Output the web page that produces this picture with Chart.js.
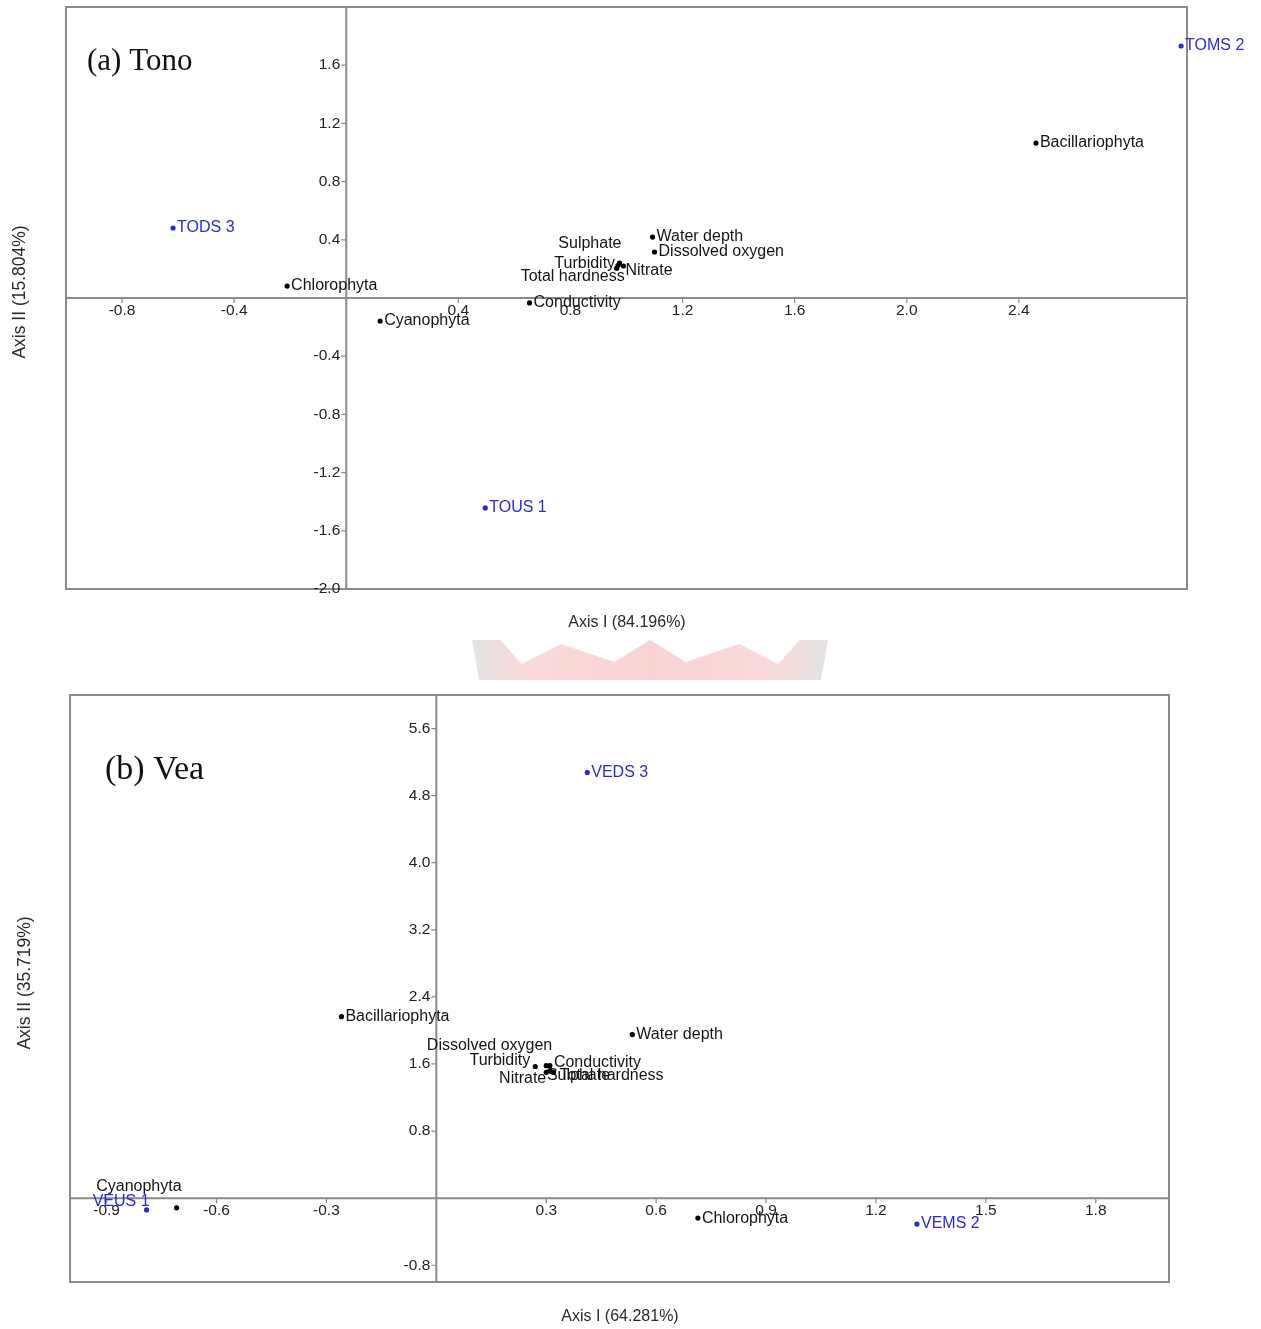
<!DOCTYPE html>
<html>
<head>
<meta charset="utf-8">
<title>CCA biplots - Tono and Vea</title>
<script src="https://cdn.jsdelivr.net/npm/chart.js@4.4.1/dist/chart.umd.min.js"></script>
<style>
  html, body { margin: 0; padding: 0; background: #fff; }
  #page { position: relative; width: 1261px; height: 1329px; overflow: hidden; }
  #crest {
    position: absolute; left: 472px; top: 640px; width: 356px; height: 40px;
    background: linear-gradient(90deg, rgba(200,200,200,0.5), rgba(240,150,150,0.35) 15%, rgba(235,130,130,0.35) 50%, rgba(240,150,150,0.35) 85%, rgba(200,200,200,0.5));
    clip-path: polygon(0 0, 8% 0, 14% 60%, 25% 10%, 40% 55%, 50% 0, 60% 55%, 75% 10%, 86% 60%, 92% 0, 100% 0, 98% 100%, 2% 100%);
  }
  canvas { position: absolute; left: 0; }
  #chartA { top: 0; }
  #chartB { top: 640px; }
</style>
</head>
<body>
<div id="page">
  <div id="crest"></div>
  <canvas id="chartA" width="1261" height="640"></canvas>
  <canvas id="chartB" width="1261" height="689"></canvas>
</div>
<script>
// ---- (a) Tono ----
const tonoSites = ["TOUS 1", "TOMS 2", "TODS 3"];
const tonoSiteX = [0.496, 2.979, -0.618];
const tonoSiteY = [-1.443, 1.732, 0.481];

const tonoVars = ["Bacillariophyta", "Chlorophyta", "Cyanophyta", "Water depth", "Dissolved oxygen",
                  "Sulphate", "Turbidity", "Total hardness", "Nitrate", "Conductivity"];
const tonoVarX = [2.461, -0.211, 0.121, 1.093, 1.100, 0.975, 0.970, 0.965, 0.989, 0.654];
const tonoVarY = [1.065, 0.082, -0.158, 0.419, 0.316, 0.240, 0.225, 0.205, 0.220, -0.034];

const tonoXTicks = [-0.8, -0.4, 0.4, 0.8, 1.2, 1.6, 2.0, 2.4];
const tonoYTicks = [1.6, 1.2, 0.8, 0.4, -0.4, -0.8, -1.2, -1.6, -2.0];

// ---- (b) Vea ----
const veaSites = ["VEUS 1", "VEMS 2", "VEDS 3"];
const veaSiteX = [-0.791, 1.312, 0.412];
const veaSiteY = [-0.140, -0.309, 5.077];

const veaVars = ["Bacillariophyta", "Chlorophyta", "Cyanophyta", "Water depth", "Dissolved oxygen",
                 "Turbidity", "Conductivity", "Nitrate", "Sulphate", "Total hardness"];
const veaVarX = [-0.259, 0.714, -0.709, 0.535, 0.300, 0.270, 0.310, 0.300, 0.310, 0.320];
const veaVarY = [2.164, -0.238, -0.115, 1.950, 1.580, 1.570, 1.580, 1.500, 1.520, 1.500];

const veaXTicks = [-0.9, -0.6, -0.3, 0.3, 0.6, 0.9, 1.2, 1.5, 1.8];
const veaYTicks = [5.6, 4.8, 4.0, 3.2, 2.4, 1.6, 0.8, -0.8];

const SANS = "'Liberation Sans', Arial, sans-serif";
const SERIF = "'Liberation Serif', 'Times New Roman', serif";
const LINE = "#8a8a8a";
const INK = "#141414";
const BLUE = "#2a2ad2";

function toPoints(xs, ys) {
    return xs.map((x, i) => ({ x: x, y: ys[i] }));
}

// box, axes through the origin and their tick labels
const crossAxes = {
    id: "crossAxes",
    beforeDatasetsDraw(chart, args, opts) {
        const { ctx, chartArea: a, scales: { x, y } } = chart;
        const x0 = x.getPixelForValue(0);
        const y0 = y.getPixelForValue(0);
        ctx.save();
        ctx.strokeStyle = LINE;
        ctx.lineWidth = 2;
        ctx.strokeRect(a.left, a.top, a.right - a.left, a.bottom - a.top);
        ctx.beginPath();
        ctx.moveTo(a.left, y0); ctx.lineTo(a.right, y0);
        ctx.moveTo(x0, a.top); ctx.lineTo(x0, a.bottom);
        ctx.stroke();

        ctx.lineWidth = 1.2;
        ctx.fillStyle = "#222";
        ctx.font = "15.5px " + SANS;
        ctx.beginPath();
        opts.xTicks.forEach(v => {
            const px = x.getPixelForValue(v);
            ctx.moveTo(px, y0); ctx.lineTo(px, y0 + 5);
        });
        opts.yTicks.forEach(v => {
            const py = y.getPixelForValue(v);
            ctx.moveTo(x0 - 5, py); ctx.lineTo(x0, py);
        });
        ctx.stroke();

        ctx.textBaseline = "middle";
        ctx.textAlign = "center";
        opts.xTicks.forEach(v => ctx.fillText(v.toFixed(1), x.getPixelForValue(v), y0 + 13));
        ctx.textAlign = "right";
        opts.yTicks.forEach(v => ctx.fillText(v.toFixed(1), x0 - 6, y.getPixelForValue(v)));

        // titles
        ctx.fillStyle = "#2a2a2a";
        ctx.textAlign = "center";
        ctx.font = "16px " + SANS;
        ctx.fillText(opts.xTitle, opts.xTitlePos[0], opts.xTitlePos[1]);
        ctx.save();
        ctx.translate(opts.yTitlePos[0], opts.yTitlePos[1]);
        ctx.rotate(-Math.PI / 2);
        ctx.font = "17.5px " + SANS;
        ctx.fillText(opts.yTitle, 0, 0);
        ctx.restore();

        ctx.fillStyle = "#111";
        ctx.textAlign = "left";
        ctx.font = opts.panelSize + "px " + SERIF;
        ctx.fillText(opts.panel, opts.panelPos[0], opts.panelPos[1]);
        ctx.restore();
    }
};

// names next to each point
const pointNames = {
    id: "pointNames",
    afterDatasetsDraw(chart, args, opts) {
        const ctx = chart.ctx;
        ctx.save();
        ctx.font = "16px " + SANS;
        ctx.textBaseline = "middle";
        chart.data.datasets.forEach((ds, di) => {
            const meta = chart.getDatasetMeta(di);
            ctx.fillStyle = ds.textColor;
            meta.data.forEach((pt, i) => {
                const name = ds.names[i];
                const p = opts.placement[name] || {};
                ctx.textAlign = p.align || "left";
                const dx = p.dx !== undefined ? p.dx : 4;
                ctx.fillText(name, pt.x + dx, pt.y + (p.dy || 0));
            });
        });
        ctx.restore();
    }
};

function makeChart(id, sites, sx, sy, vars, vx, vy, xr, yr, pad, axesOpts, placement) {
    return new Chart(document.getElementById(id), {
        type: "scatter",
        data: {
            datasets: [
                {
                    data: toPoints(vx, vy), names: vars, textColor: INK,
                    backgroundColor: "#000", pointRadius: 2.6, borderWidth: 0
                },
                {
                    data: toPoints(sx, sy), names: sites, textColor: BLUE,
                    backgroundColor: BLUE, pointRadius: 2.6, borderWidth: 0
                }
            ]
        },
        options: {
            responsive: false,
            animation: false,
            events: [],
            layout: { padding: pad },
            scales: {
                x: { type: "linear", min: xr[0], max: xr[1], display: false },
                y: { type: "linear", min: yr[0], max: yr[1], display: false }
            },
            plugins: {
                legend: { display: false },
                tooltip: { enabled: false },
                crossAxes: axesOpts,
                pointNames: { placement: placement }
            }
        },
        plugins: [crossAxes, pointNames]
    });
}

makeChart("chartA", tonoSites, tonoSiteX, tonoSiteY, tonoVars, tonoVarX, tonoVarY,
    [-1.0, 3.0], [-2.0, 2.0],
    { left: 66, right: 74, top: 7, bottom: 51 },
    {
        xTicks: tonoXTicks, yTicks: tonoYTicks,
        xTitle: "Axis I (84.196%)", xTitlePos: [627, 623],
        yTitle: "Axis II (15.804%)", yTitlePos: [20, 292],
        panel: "(a) Tono", panelPos: [87, 62], panelSize: 31
    },
    {
        "Sulphate": { align: "right", dx: 2, dy: -19 },
        "Turbidity": { align: "right", dx: -3, dy: -2 },
        "Total hardness": { align: "right", dx: 8, dy: 8 },
        "Nitrate": { dx: 2, dy: 5 }
    });

makeChart("chartB", veaSites, veaSiteX, veaSiteY, veaVars, veaVarX, veaVarY,
    [-1.0, 2.0], [-1.0, 6.0],
    { left: 70, right: 92, top: 55, bottom: 47 },
    {
        xTicks: veaXTicks, yTicks: veaYTicks,
        xTitle: "Axis I (64.281%)", xTitlePos: [620, 677],
        yTitle: "Axis II (35.719%)", yTitlePos: [25, 343],
        panel: "(b) Vea", panelPos: [105, 130], panelSize: 34
    },
    {
        "Dissolved oxygen": { align: "right", dx: 6, dy: -20 },
        "Turbidity": { align: "right", dx: -5, dy: -6 },
        "Conductivity": { dx: 4, dy: -3 },
        "Nitrate": { align: "right", dx: 0, dy: 6 },
        "Sulphate": { dx: -3, dy: 5 },
        "Total hardness": { dx: 6, dy: 3 },
        "Cyanophyta": { align: "right", dx: 5, dy: -21 },
        "VEUS 1": { align: "right", dx: 3, dy: -8 }
    });
</script>
</body>
</html>
